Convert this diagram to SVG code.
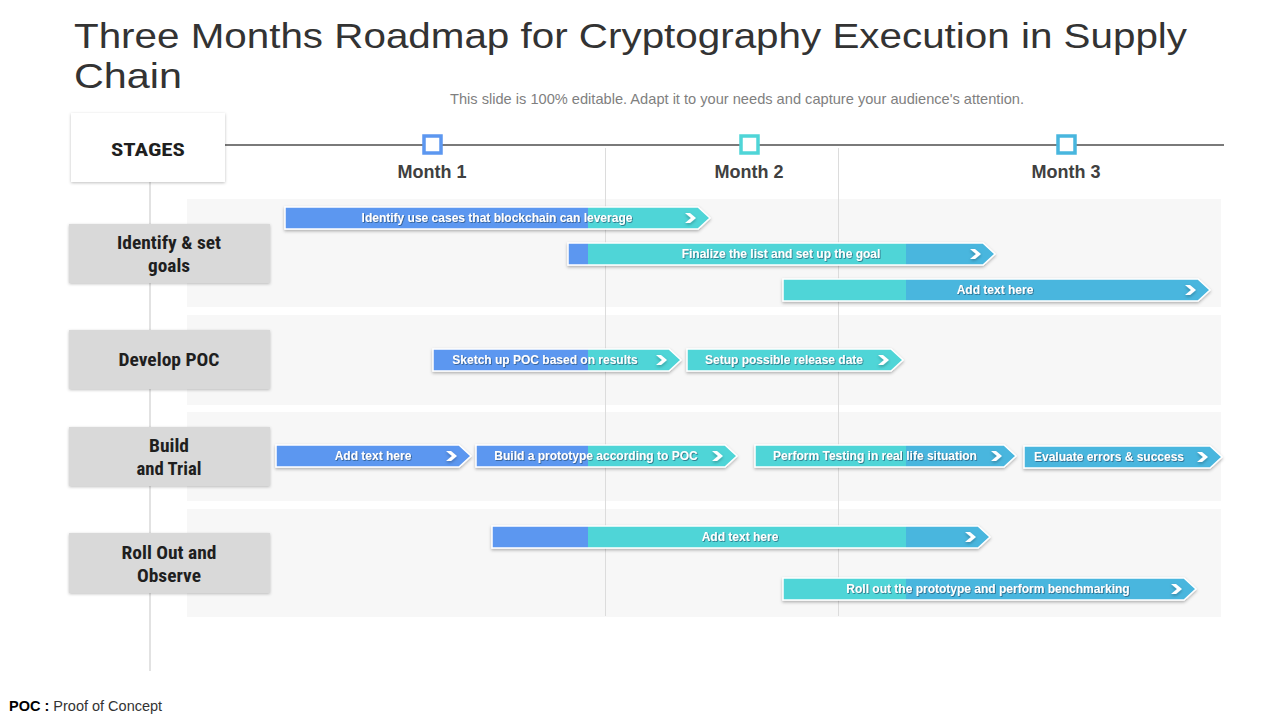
<svg xmlns="http://www.w3.org/2000/svg" width="1280" height="720" viewBox="0 0 1280 720">
<defs>
<linearGradient id="seg" gradientUnits="userSpaceOnUse" x1="0" y1="0" x2="1280" y2="0">
<stop offset="0" stop-color="#5c97f0"/>
<stop offset="0.4594" stop-color="#5c97f0"/>
<stop offset="0.4594" stop-color="#4fd5d7"/>
<stop offset="0.7078" stop-color="#4fd5d7"/>
<stop offset="0.7078" stop-color="#48b6de"/>
<stop offset="1" stop-color="#48b6de"/>
</linearGradient>
<filter id="sh" x="-10%" y="-40%" width="120%" height="180%">
<feDropShadow dx="0" dy="1.5" stdDeviation="1.5" flood-color="#000" flood-opacity="0.3"/>
</filter>
<filter id="boxsh" x="-10%" y="-10%" width="120%" height="130%">
<feDropShadow dx="0" dy="1" stdDeviation="1.5" flood-color="#000" flood-opacity="0.25"/>
</filter>
<filter id="tsh" x="-5%" y="-30%" width="110%" height="160%">
<feDropShadow dx="0.8" dy="0.8" stdDeviation="0.4" flood-color="#1a3a5a" flood-opacity="0.7"/>
</filter>
</defs>
<style>
.title{font-family:"Liberation Sans",Arial,sans-serif;font-size:35px;fill:#333;}
.sub{font-family:"Liberation Sans",Arial,sans-serif;font-size:14.5px;fill:#7f7f7f;}
.month{font-family:"Liberation Sans",Arial,sans-serif;font-size:18px;font-weight:bold;fill:#404040;text-anchor:middle;}
.stage{font-family:"Liberation Sans Narrow","Roboto Condensed","Liberation Sans",sans-serif;font-size:18px;font-weight:bold;fill:#1f1f1f;text-anchor:middle;}
.rowbg{fill:#f7f7f7;}
.lbl{fill:#d9d9d9;}
.bar{fill:url(#seg);stroke:#fff;stroke-width:1.5;filter:url(#sh);}
.chev{fill:#fff;filter:url(#sh);}
.bt{font-family:"Liberation Sans",Arial,sans-serif;font-size:12px;font-weight:bold;fill:#fff;text-anchor:middle;filter:url(#tsh);}
.grid{stroke:#dcdcdc;stroke-width:1;}
.foot{font-family:"Liberation Sans",Arial,sans-serif;font-size:14.5px;fill:#333;}
</style>
<rect width="1280" height="720" fill="#fff"/>
<text class="title" x="74" y="48" textLength="1113" lengthAdjust="spacingAndGlyphs">Three Months Roadmap for Cryptography Execution in Supply</text>
<text class="title" x="74" y="88" textLength="108" lengthAdjust="spacingAndGlyphs">Chain</text>
<text class="sub" x="737" y="104" text-anchor="middle" textLength="574" lengthAdjust="spacingAndGlyphs">This slide is 100% editable. Adapt it to your needs and capture your audience's attention.</text>

<g id="rows">
<rect class="rowbg" x="187" y="199" width="1034" height="108"/>
<rect class="rowbg" x="187" y="315" width="1034" height="90"/>
<rect class="rowbg" x="187" y="412" width="1034" height="89"/>
<rect class="rowbg" x="187" y="509" width="1034" height="108"/>
</g>

<g id="connectors">
<line x1="150" y1="182" x2="150" y2="671" stroke="#cfcfcf" stroke-width="1.2"/>
<line class="grid" x1="605.5" y1="148" x2="605.5" y2="616"/>
<line class="grid" x1="838.5" y1="148" x2="838.5" y2="616"/>
<line x1="225" y1="145" x2="1224" y2="145" stroke="#7a7a7a" stroke-width="2"/>
</g>

<g id="month1">
<rect x="424" y="136" width="17" height="17" fill="#fff" stroke="#5c97f0" stroke-width="3.5"/>
<text class="month" x="432" y="178">Month 1</text>
</g>
<g id="month2">
<rect x="741" y="136" width="17" height="17" fill="#fff" stroke="#4fd5d7" stroke-width="3.5"/>
<text class="month" x="749" y="178">Month 2</text>
</g>
<g id="month3">
<rect x="1058" y="136" width="17" height="17" fill="#fff" stroke="#48b6de" stroke-width="3.5"/>
<text class="month" x="1066" y="178">Month 3</text>
</g>

<g id="stages">
<rect x="71" y="113" width="154" height="69" fill="#fff" filter="url(#boxsh)"/>
<text class="stage" x="148" y="156" font-size="22" textLength="74" lengthAdjust="spacingAndGlyphs">STAGES</text>
</g>

<g id="stage-identify">
<rect class="lbl" x="69" y="224" width="201" height="59" filter="url(#boxsh)"/>
<text class="stage" x="169" y="249" textLength="104" lengthAdjust="spacingAndGlyphs">Identify &amp; set</text>
<text class="stage" x="169" y="272" textLength="42" lengthAdjust="spacingAndGlyphs">goals</text>
</g>
<g id="stage-develop">
<rect class="lbl" x="69" y="330" width="201" height="59" filter="url(#boxsh)"/>
<text class="stage" x="169" y="366" textLength="101" lengthAdjust="spacingAndGlyphs">Develop POC</text>
</g>
<g id="stage-build">
<rect class="lbl" x="69" y="427" width="201" height="59" filter="url(#boxsh)"/>
<text class="stage" x="169" y="452" textLength="40" lengthAdjust="spacingAndGlyphs">Build</text>
<text class="stage" x="169" y="475" textLength="65" lengthAdjust="spacingAndGlyphs">and Trial</text>
</g>
<g id="stage-rollout">
<rect class="lbl" x="69" y="533" width="201" height="60" filter="url(#boxsh)"/>
<text class="stage" x="169" y="559" textLength="95" lengthAdjust="spacingAndGlyphs">Roll Out and</text>
<text class="stage" x="169" y="582" textLength="64" lengthAdjust="spacingAndGlyphs">Observe</text>
</g>

<g id="task1">
<path class="bar" d="M285 207 H698 L710 218 L698 229 H285 Z"/>
<path class="chev" d="M685 213 h5 l6 5 l-6 5 h-5 l6 -5 z"/>
<text class="bt" x="497" y="222">Identify use cases that blockchain can leverage</text>
</g>
<g id="task2">
<path class="bar" d="M568 243 H983 L995 254 L983 265 H568 Z"/>
<path class="chev" d="M970 249 h5 l6 5 l-6 5 h-5 l6 -5 z"/>
<text class="bt" x="781" y="258">Finalize the list and set up the goal</text>
</g>
<g id="task3">
<path class="bar" d="M783 279 H1198 L1210 290 L1198 301 H783 Z"/>
<path class="chev" d="M1185 285 h5 l6 5 l-6 5 h-5 l6 -5 z"/>
<text class="bt" x="995" y="294">Add text here</text>
</g>
<g id="task4">
<path class="bar" d="M433 349 H669 L681 360 L669 371 H433 Z"/>
<path class="chev" d="M656 355 h5 l6 5 l-6 5 h-5 l6 -5 z"/>
<text class="bt" x="545" y="364">Sketch up POC based on results</text>
</g>
<g id="task5">
<path class="bar" d="M687 349 H891 L903 360 L891 371 H687 Z"/>
<path class="chev" d="M878 355 h5 l6 5 l-6 5 h-5 l6 -5 z"/>
<text class="bt" x="784" y="364">Setup possible release date</text>
</g>
<g id="task6">
<path class="bar" d="M276 445 H459 L471 456 L459 467 H276 Z"/>
<path class="chev" d="M446 451 h5 l6 5 l-6 5 h-5 l6 -5 z"/>
<text class="bt" x="373" y="460">Add text here</text>
</g>
<g id="task7">
<path class="bar" d="M476 445 H725 L737 456 L725 467 H476 Z"/>
<path class="chev" d="M712 451 h5 l6 5 l-6 5 h-5 l6 -5 z"/>
<text class="bt" x="596" y="460">Build a prototype according to POC</text>
</g>
<g id="task8">
<path class="bar" d="M755 445 H1004 L1016 456 L1004 467 H755 Z"/>
<path class="chev" d="M991 451 h5 l6 5 l-6 5 h-5 l6 -5 z"/>
<text class="bt" x="875" y="460">Perform Testing in real life situation</text>
</g>
<g id="task9">
<path class="bar" d="M1024 446 H1210 L1222 457 L1210 468 H1024 Z"/>
<path class="chev" d="M1197 452 h5 l6 5 l-6 5 h-5 l6 -5 z"/>
<text class="bt" x="1109" y="461">Evaluate errors &amp; success</text>
</g>
<g id="task10">
<path class="bar" d="M492 526 H978 L990 537 L978 548 H492 Z"/>
<path class="chev" d="M965 532 h5 l6 5 l-6 5 h-5 l6 -5 z"/>
<text class="bt" x="740" y="541">Add text here</text>
</g>
<g id="task11">
<path class="bar" d="M783 578 H1184 L1196 589 L1184 600 H783 Z"/>
<path class="chev" d="M1171 584 h5 l6 5 l-6 5 h-5 l6 -5 z"/>
<text class="bt" x="988" y="593">Roll out the prototype and perform benchmarking</text>
</g>

<text class="foot" x="9" y="711"><tspan font-weight="bold" fill="#000">POC : </tspan>Proof of Concept</text>
</svg>
